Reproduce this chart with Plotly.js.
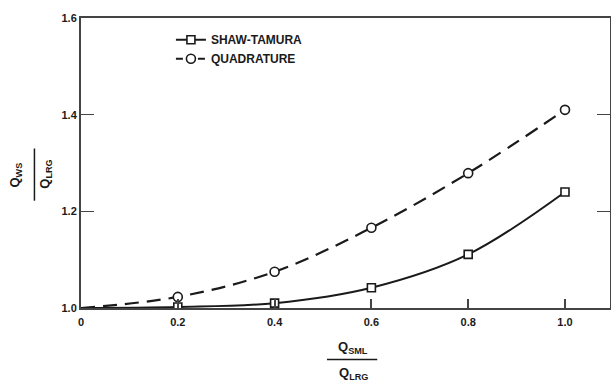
<!DOCTYPE html>
<html><head><meta charset="utf-8">
<script src="https://cdn.plot.ly/plotly-3.0.1.min.js"></script>
<style>body{margin:0;background:#fff}#c{width:611px;height:381px}</style>
</head><body><div id="c"></div>
<script>
var xLine = [0, 0.2, 0.4, 0.6, 0.8, 1.0];
var shawLine = [1.0, 1.002, 1.010, 1.042, 1.111, 1.240];
var quadLine = [1.0, 1.023, 1.075, 1.166, 1.279, 1.410];
var xPts = [0.2, 0.4, 0.6, 0.8, 1.0];
var shawPts = [1.002, 1.010, 1.042, 1.111, 1.240];
var quadPts = [1.023, 1.075, 1.166, 1.279, 1.410];
var xTicks = [0, 0.2, 0.4, 0.6, 0.8, 1.0];
var xTickText = ['0', '0.2', '0.4', '0.6', '0.8', '1.0'];
var yTicks = [1.0, 1.2, 1.4, 1.6];
var yTickText = ['1.0', '1.2', '1.4', '1.6'];
var names = ['SHAW-TAMURA', 'QUADRATURE'];

var F = 'Liberation Sans, Arial, sans-serif';
var ink = '#1a1a1a';
var sq = {symbol: 'square', size: 8, color: '#fff', line: {width: 1.6, color: ink}};
var ci = {symbol: 'circle', size: 9, color: '#fff', line: {width: 1.6, color: ink}};
var traces = [
  {x: xLine, y: shawLine, mode: 'lines', line: {shape: 'spline', color: ink, width: 2}, showlegend: false, hoverinfo: 'skip'},
  {x: xLine, y: quadLine, mode: 'lines', line: {shape: 'spline', color: ink, width: 2.2, dash: '14px,8px'}, showlegend: false, hoverinfo: 'skip'},
  {x: xPts, y: shawPts, mode: 'markers', name: names[0], marker: sq, showlegend: false},
  {x: xPts, y: quadPts, mode: 'markers', name: names[1], marker: ci, showlegend: false},
  {x: [null], y: [null], mode: 'lines+markers', name: names[0], line: {color: ink, width: 2}, marker: sq},
  {x: [null], y: [null], mode: 'lines+markers', name: names[1], line: {color: ink, width: 2, dash: '7px,4px'}, marker: ci}
];

var layout = {
  width: 611, height: 381,
  margin: {l: 81, r: 1, t: 18, b: 73},
  paper_bgcolor: '#fff', plot_bgcolor: '#fff',
  font: {family: F, color: ink, size: 10},
  showlegend: true,
  legend: {x: 0.17, y: 0.975, xanchor: 'left', yanchor: 'top', bgcolor: 'rgba(0,0,0,0)',
           font: {family: F, size: 12, color: ink, weight: 'bold'}, tracegroupgap: 2},
  xaxis: {range: [0, 1.093], tickvals: xTicks, ticktext: xTickText, ticks: 'inside', ticklen: 9, tickwidth: 2,
          tickcolor: '#444', showline: true, linecolor: '#444', linewidth: 2, mirror: true, showgrid: false,
          zeroline: false, ticklabelstandoff: 3, tickfont: {family: F, size: 11, weight: 'bold'}},
  yaxis: {range: [1.0, 1.6], tickvals: yTicks, ticktext: yTickText, ticks: 'inside', ticklen: 13, tickwidth: 1.5,
          tickcolor: '#444', showline: true, linecolor: '#444', linewidth: 2, mirror: 'ticks', showgrid: false,
          zeroline: false, tickfont: {family: F, size: 11, weight: 'bold'}},
  annotations: [
    {xref: 'paper', yref: 'paper', x: 0.515, y: -0.135, xanchor: 'center', yanchor: 'middle', showarrow: false,
     text: 'Q<sub>SML</sub>', font: {family: F, size: 13, weight: 'bold'}},
    {xref: 'paper', yref: 'paper', x: 0.515, y: -0.225, xanchor: 'center', yanchor: 'middle', showarrow: false,
     text: 'Q<sub>LRG</sub>', font: {family: F, size: 13, weight: 'bold'}},
    {xref: 'paper', yref: 'paper', x: -0.123, y: 0.46, xanchor: 'center', yanchor: 'middle', showarrow: false, textangle: -90,
     text: 'Q<sub>WS</sub>', font: {family: F, size: 13, weight: 'bold'}},
    {xref: 'paper', yref: 'paper', x: -0.066, y: 0.46, xanchor: 'center', yanchor: 'middle', showarrow: false, textangle: -90,
     text: 'Q<sub>LRG</sub>', font: {family: F, size: 13, weight: 'bold'}}
  ],
  shapes: [
    {type: 'line', xref: 'paper', yref: 'paper', x0: 0.465, x1: 0.56, y0: -0.178, y1: -0.178, line: {color: ink, width: 1.5}},
    {type: 'line', xref: 'paper', yref: 'paper', x0: -0.088, x1: -0.088, y0: 0.37, y1: 0.55, line: {color: ink, width: 1.5}}
  ]
};
Plotly.newPlot('c', traces, layout, {displayModeBar: false, staticPlot: true});
</script>
</body></html>
